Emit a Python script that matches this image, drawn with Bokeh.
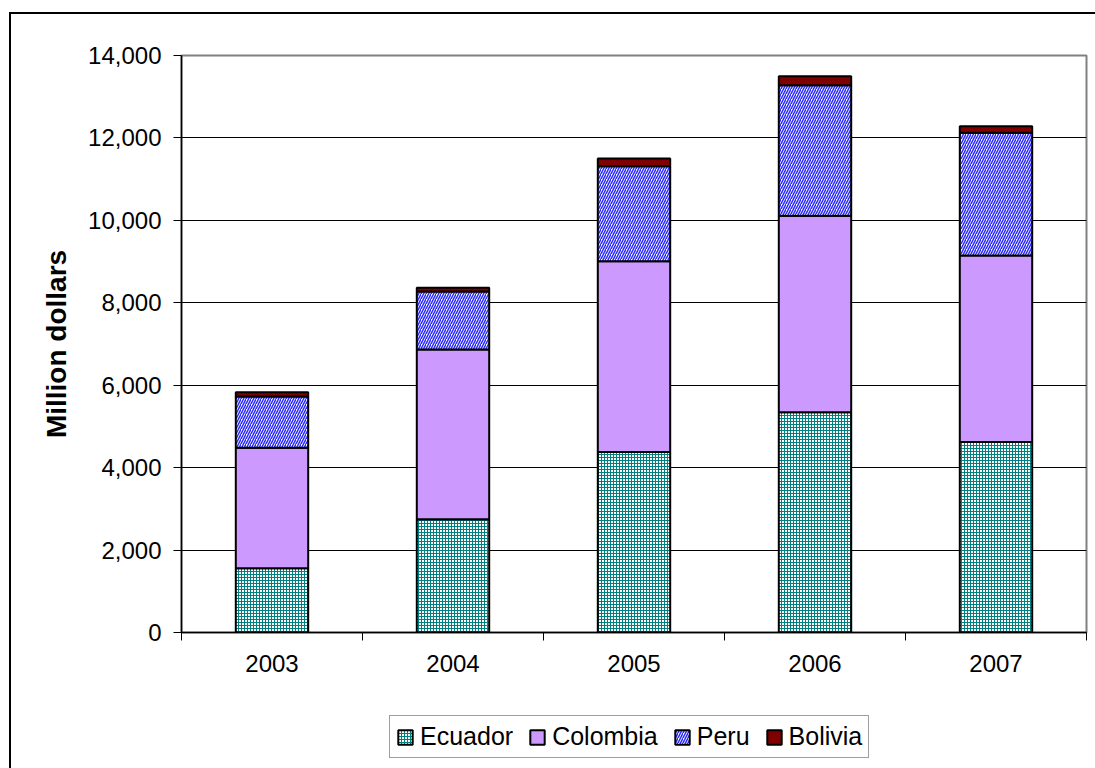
from bokeh.plotting import figure
from bokeh.layouts import column
from bokeh.models import (FixedTicker, NumeralTickFormatter, Legend, LegendItem,
                          ColumnDataSource, Range1d)
from bokeh.embed import file_html
from bokeh.resources import INLINE
try:
    from bokeh.models import GlobalInlineStyleSheet
except ImportError:
    GlobalInlineStyleSheet = None

years = ["2003", "2004", "2005", "2006", "2007"]
series = ["Ecuador", "Colombia", "Peru", "Bolivia"]
ecuador = [1560, 2745, 4380, 5345, 4620]
colombia = [2920, 4120, 4630, 4765, 4530]
peru = [1245, 1410, 2300, 3170, 2975]
bolivia = [105, 90, 190, 218, 160]
y_ticks = [0, 2000, 4000, 6000, 8000, 10000, 12000, 14000]

FONT = "Liberation Sans"
BW = 2                       # outer box border width
OX, OY = 9 + BW, 12 + BW     # where the chart canvas starts in the window
W = 1100                     # chart box runs past the window's right edge
H_MAIN = 700 - OY
H_LEG = 78                   # ... and past its bottom edge
FRAME_L, FRAME_R, FRAME_T, FRAME_B = 181, 1086, 55, 632

fills = ["white", "#CC99FF", "white", "#800000"]
hatches = ["+", " ", "/", " "]
hatch_colors = ["#008080", "#CC99FF", "#2a2aff", "#800000"]
hatch_scales = [3, 3, 5, 3]
hatch_weights = [1, 1, 1.5, 1]

x = [i + 0.5 for i in range(len(years))]
src = ColumnDataSource(dict(x=x, Ecuador=ecuador, Colombia=colombia,
                            Peru=peru, Bolivia=bolivia))

p = figure(width=W, height=H_MAIN, output_backend="svg",
           toolbar_location=None,
           x_range=Range1d(0, len(years)), y_range=Range1d(0, y_ticks[-1]),
           min_border_left=FRAME_L - OX, min_border_right=(OX + W) - FRAME_R,
           min_border_top=FRAME_T - OY, min_border_bottom=(OY + H_MAIN) - FRAME_B)
p.background_fill_color = "white"
p.border_fill_color = "white"
p.outline_line_color = "#808080"
p.outline_line_width = 2

p.vbar_stack(
    series, x="x", width=0.4, source=src,
    fill_color=fills, hatch_pattern=hatches, hatch_color=hatch_colors,
    hatch_scale=hatch_scales, hatch_weight=hatch_weights,
    line_color="black", line_width=2,
)

# grid
p.xgrid.visible = False
p.ygrid.ticker = FixedTicker(ticks=y_ticks)
p.ygrid.grid_line_color = "black"
p.ygrid.grid_line_width = 1

# y axis
yax = p.yaxis[0]
yax.ticker = FixedTicker(ticks=y_ticks)
yax.formatter = NumeralTickFormatter(format="0,0")
yax.major_label_text_font = FONT
yax.major_label_text_font_size = "24px"
yax.major_label_text_color = "black"
yax.major_tick_out = 8
yax.major_tick_in = 0
yax.minor_tick_out = 0
yax.minor_tick_in = 0
yax.axis_line_color = "black"
yax.axis_line_width = 1.5
yax.major_tick_line_color = "black"
yax.major_label_standoff = 12
yax.axis_label = "Million dollars"
yax.axis_label_text_font = FONT
yax.axis_label_text_font_style = "bold"
yax.axis_label_text_font_size = "28px"
yax.axis_label_text_color = "black"
yax.axis_label_standoff = 13

# x axis
xax = p.xaxis[0]
xax.ticker = FixedTicker(ticks=x, minor_ticks=list(range(len(years) + 1)))
xax.major_label_overrides = {xi: yr for xi, yr in zip(x, years)}
xax.major_label_text_font = FONT
xax.major_label_text_font_size = "24px"
xax.major_label_text_color = "black"
xax.major_tick_out = 0
xax.major_tick_in = 0
xax.minor_tick_out = 8
xax.minor_tick_in = 0
xax.minor_tick_line_color = "black"
xax.axis_line_color = "black"
xax.axis_line_width = 1.5
xax.major_label_standoff = 14

# legend strip (second canvas under the chart, inside the same outer box)
pl = figure(width=W, height=H_LEG, output_backend="svg", toolbar_location=None,
            x_range=Range1d(0, 1), y_range=Range1d(0, 1),
            x_axis_location=None, y_axis_location=None, min_border=0)
pl.outline_line_color = None
pl.background_fill_color = "white"
pl.border_fill_color = "white"
pl.grid.visible = False
pl.xgrid.visible = False
pl.ygrid.visible = False
items = []
for i, s in enumerate(series):
    # off-range placeholder bar: only its legend swatch is seen
    r = pl.vbar(x=[-5], top=[0], width=0.1, fill_color=fills[i], hatch_pattern=hatches[i],
                hatch_color=hatch_colors[i], hatch_scale=hatch_scales[i],
                hatch_weight=hatch_weights[i], line_color="black", line_width=2)
    items.append(LegendItem(label=s, renderers=[r]))

legend = Legend(
    items=items, orientation="horizontal",
    location=(389 - FRAME_L, (OY + H_MAIN + H_LEG) - 758),
    label_text_font=FONT, label_text_font_size="25px", label_text_color="black",
    glyph_width=18, glyph_height=18, label_standoff=6, spacing=15,
    padding=6, margin=0,
    border_line_color="#404040", border_line_width=1.5,
    background_fill_color="white",
)
pl.add_layout(legend)

layout = column(p, pl, spacing=0)
layout.margin = (OY, 0, 0, OX)
layout.styles = {"box-shadow": f"-{BW}px -{BW}px 0px 0px black"}
if GlobalInlineStyleSheet is not None:
    layout.stylesheets = [GlobalInlineStyleSheet(css="html, body { overflow: hidden; margin: 0; }")]
open("out.html", "w").write(file_html(layout, INLINE))
